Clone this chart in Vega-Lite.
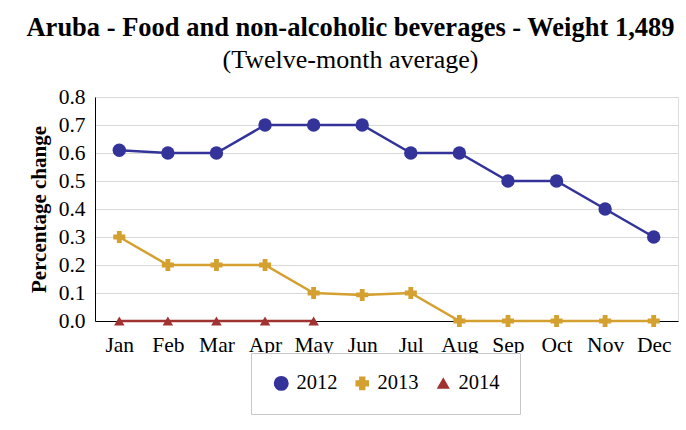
{
  "$schema": "https://vega.github.io/schema/vega-lite/v6.json",
  "width": 583,
  "height": 224,
  "autosize": {"type": "none"},
  "padding": {"left": 95, "top": 97, "right": 8, "bottom": 109},
  "background": "white",
  "title": {
    "text": "Aruba - Food and non-alcoholic beverages - Weight 1,489",
    "subtitle": "(Twelve-month average)",
    "font": "Liberation Serif",
    "fontSize": 26.5,
    "fontWeight": "bold",
    "color": "black",
    "subtitleFont": "Liberation Serif",
    "subtitleFontSize": 26,
    "subtitleColor": "black",
    "subtitlePadding": 6,
    "anchor": "middle",
    "dx": -36,
    "offset": 13
  },
  "data": {
    "values": [
      {"month": "Jan", "year": "2012", "value": 0.61},
      {"month": "Feb", "year": "2012", "value": 0.60},
      {"month": "Mar", "year": "2012", "value": 0.60},
      {"month": "Apr", "year": "2012", "value": 0.70},
      {"month": "May", "year": "2012", "value": 0.70},
      {"month": "Jun", "year": "2012", "value": 0.70},
      {"month": "Jul", "year": "2012", "value": 0.60},
      {"month": "Aug", "year": "2012", "value": 0.60},
      {"month": "Sep", "year": "2012", "value": 0.50},
      {"month": "Oct", "year": "2012", "value": 0.50},
      {"month": "Nov", "year": "2012", "value": 0.40},
      {"month": "Dec", "year": "2012", "value": 0.30},
      {"month": "Jan", "year": "2013", "value": 0.30},
      {"month": "Feb", "year": "2013", "value": 0.20},
      {"month": "Mar", "year": "2013", "value": 0.20},
      {"month": "Apr", "year": "2013", "value": 0.20},
      {"month": "May", "year": "2013", "value": 0.10},
      {"month": "Jun", "year": "2013", "value": 0.093},
      {"month": "Jul", "year": "2013", "value": 0.10},
      {"month": "Aug", "year": "2013", "value": 0.0},
      {"month": "Sep", "year": "2013", "value": 0.0},
      {"month": "Oct", "year": "2013", "value": 0.0},
      {"month": "Nov", "year": "2013", "value": 0.0},
      {"month": "Dec", "year": "2013", "value": 0.0},
      {"month": "Jan", "year": "2014", "value": 0.0},
      {"month": "Feb", "year": "2014", "value": 0.0},
      {"month": "Mar", "year": "2014", "value": 0.0},
      {"month": "Apr", "year": "2014", "value": 0.0},
      {"month": "May", "year": "2014", "value": 0.0}
    ]
  },
  "encoding": {
    "x": {
      "field": "month",
      "type": "ordinal",
      "sort": ["Jan","Feb","Mar","Apr","May","Jun","Jul","Aug","Sep","Oct","Nov","Dec"],
      "scale": {"type": "point", "padding": 0.5},
      "axis": {
        "title": null,
        "labelAngle": 0,
        "labelFont": "Liberation Serif",
        "labelFontSize": 21.5,
        "labelColor": "black",
        "labelPadding": 13,
        "ticks": false,
        "domainColor": "black",
        "domainWidth": 1,
        "grid": false
      }
    },
    "y": {
      "field": "value",
      "type": "quantitative",
      "scale": {"domain": [0, 0.8], "nice": false},
      "axis": {
        "title": "Percentage change",
        "titleFont": "Liberation Serif",
        "titleFontSize": 21,
        "titleFontWeight": "bold",
        "titleColor": "black",
        "titlePadding": 9,
        "values": [0, 0.1, 0.2, 0.3, 0.4, 0.5, 0.6, 0.7, 0.8],
        "format": ".1f",
        "labelFont": "Liberation Serif",
        "labelFontSize": 21.5,
        "labelColor": "black",
        "labelPadding": 10,
        "ticks": false,
        "domainColor": "black",
        "domainWidth": 1,
        "grid": true,
        "gridColor": "#d9d9d9",
        "gridWidth": 1
      }
    },
    "color": {
      "field": "year",
      "type": "nominal",
      "scale": {"domain": ["2012", "2013", "2014"], "range": ["#333399", "#D4A030", "#A03232"]},
      "legend": {
        "title": null,
        "orient": "none",
        "direction": "horizontal",
        "legendX": 156,
        "legendY": 256,
        "padding": 20,
        "strokeColor": "#c8c8c8",
        "fillColor": "white",
        "labelFont": "Liberation Serif",
        "labelFontSize": 20.5,
        "labelColor": "black",
        "labelOffset": 5,
        "columnPadding": 14,
        "symbolSize": 150,
        "symbolOpacity": 1
      }
    }
  },
  "layer": [
    {"mark": {"type": "line", "strokeWidth": 2.5}},
    {
      "mark": {"type": "point", "filled": true, "opacity": 1},
      "encoding": {
        "shape": {
          "field": "year",
          "type": "nominal",
          "scale": {"domain": ["2012", "2013", "2014"], "range": ["circle", "cross", "triangle-up"]},
          "legend": {
            "title": null,
            "orient": "none",
            "direction": "horizontal",
            "legendX": 156,
            "legendY": 256,
            "padding": 20,
            "strokeColor": "#c8c8c8",
            "fillColor": "white",
            "labelFont": "Liberation Serif",
            "labelFontSize": 20.5,
            "labelColor": "black",
            "labelOffset": 5,
            "columnPadding": 14,
            "symbolSize": 150,
            "symbolOpacity": 1
          }
        },
        "size": {
          "field": "year",
          "type": "ordinal",
          "scale": {"domain": ["2012", "2013", "2014"], "range": [180, 110, 80]},
          "legend": null
        }
      }
    }
  ]
}
